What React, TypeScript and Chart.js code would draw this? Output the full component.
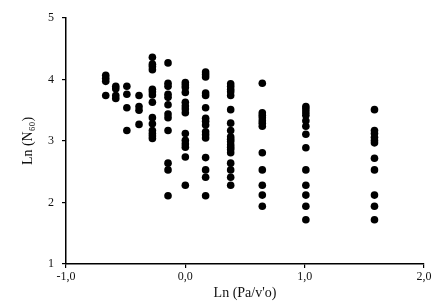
import React, { useEffect, useRef } from "react";
import { Chart, registerables } from "chart.js";

Chart.register(...registerables);

// Column x positions (Ln(Pa/σ'o))
const xPositions = [-0.667, -0.583, -0.49, -0.388, -0.276, -0.145, 0.0, 0.17, 0.38, 0.645, 1.01, 1.585];

// Ln(N60) values for each column
const col1 = [4.07, 4.02, 3.97, 3.74];
const col2 = [3.89, 3.85, 3.74, 3.69];
const col3 = [3.89, 3.76, 3.54, 3.17];
const col4 = [3.74, 3.56, 3.5, 3.27];
const col5 = [4.36, 4.25, 4.21, 4.16, 3.84, 3.8, 3.75, 3.63, 3.38, 3.28, 3.17, 3.12, 3.08, 3.04];
const col6 = [4.27, 3.94, 3.89, 3.76, 3.71, 3.59, 3.44, 3.38, 3.17, 2.64, 2.53, 2.11];
const col7 = [3.95, 3.91, 3.87, 3.79, 3.63, 3.57, 3.52, 3.46, 3.12, 3.01, 2.95, 2.9, 2.74, 2.28];
const col8 = [4.12, 4.08, 4.04, 3.78, 3.74, 3.54, 3.37, 3.32, 3.26, 3.15, 3.1, 3.05, 2.73, 2.53, 2.41, 2.11];
const col9 = [3.93, 3.89, 3.84, 3.8, 3.74, 3.51, 3.29, 3.17, 3.07, 3.03, 2.99, 2.94, 2.9, 2.86, 2.81, 2.64, 2.53, 2.41, 2.28];
const col10 = [3.94, 3.46, 3.42, 3.38, 3.33, 3.29, 3.24, 2.81, 2.53, 2.28, 2.12, 1.94];
const col11 = [3.56, 3.52, 3.47, 3.42, 3.33, 3.24, 3.11, 2.89, 2.53, 2.28, 2.12, 1.94, 1.72];
const col12 = [3.51, 3.17, 3.12, 3.06, 3.01, 2.97, 2.72, 2.53, 2.12, 1.94, 1.72];

const columns = [col1, col2, col3, col4, col5, col6, col7, col8, col9, col10, col11, col12];

const xTicks = [-1, 0, 1, 2];
const yTicks = [1, 2, 3, 4, 5];

const xTitle = "Ln (Pa/v'o)";
const yTitle = "Ln (N\u2086\u2080)";

const FONT = "'Liberation Serif', 'Times New Roman', 'DejaVu Serif', serif";

export default function App() {
  const ref = useRef<HTMLCanvasElement | null>(null);

  useEffect(() => {
    if (!ref.current) return;
    const points: { x: number; y: number }[] = [];
    columns.forEach((col, i) => {
      col.forEach((v) => points.push({ x: xPositions[i], y: v }));
    });

    const chart = new Chart(ref.current, {
      type: "scatter",
      data: {
        datasets: [
          {
            data: points,
            backgroundColor: "#000",
            borderColor: "#000",
            pointRadius: 3.8,
            pointHoverRadius: 3.8,
            borderWidth: 0,
          },
        ],
      },
      options: {
        responsive: false,
        animation: false,
        layout: { padding: { left: 0, top: 18, right: 10, bottom: 0 } },
        plugins: { legend: { display: false }, tooltip: { enabled: false } },
        scales: {
          x: {
            type: "linear",
            min: -1,
            max: 2,
            afterBuildTicks: (axis: any) => {
              axis.ticks = xTicks.map((v) => ({ value: v }));
            },
            afterFit: (axis: any) => {
              axis.height = 38;
            },
            ticks: {
              color: "#111",
              font: { family: FONT, size: 12 },
              padding: 2,
              maxRotation: 0,
              callback: (v: any) => Number(v).toFixed(1).replace(".", ","),
            },
            grid: {
              display: true,
              drawOnChartArea: false,
              drawTicks: true,
              tickLength: 4,
              color: "#000",
              lineWidth: 1.2,
            },
            border: { display: true, color: "#000", width: 1.5 },
            title: {
              display: true,
              text: xTitle,
              color: "#111",
              font: { family: FONT, size: 14 },
              padding: { top: 0, bottom: 0 },
            },
          },
          y: {
            type: "linear",
            min: 1,
            max: 5,
            afterBuildTicks: (axis: any) => {
              axis.ticks = yTicks.map((v) => ({ value: v }));
            },
            afterFit: (axis: any) => {
              axis.width = 66;
            },
            ticks: {
              color: "#111",
              font: { family: FONT, size: 12 },
              padding: 8,
              callback: (v: any) => String(v),
            },
            grid: {
              display: true,
              drawOnChartArea: false,
              drawTicks: true,
              tickLength: 4,
              color: "#000",
              lineWidth: 1.2,
            },
            border: { display: true, color: "#000", width: 1.5 },
            title: {
              display: true,
              text: yTitle,
              color: "#111",
              font: { family: FONT, size: 14 },
              padding: { top: 20, bottom: 0 },
            },
          },
        },
      },
    });
    return () => chart.destroy();
  }, []);

  return (
    <div style={{ position: "absolute", left: 0, top: 0, width: 434, height: 302, background: "#fff" }}>
      <canvas ref={ref} width={434} height={302} style={{ display: "block" }} />
    </div>
  );
}
